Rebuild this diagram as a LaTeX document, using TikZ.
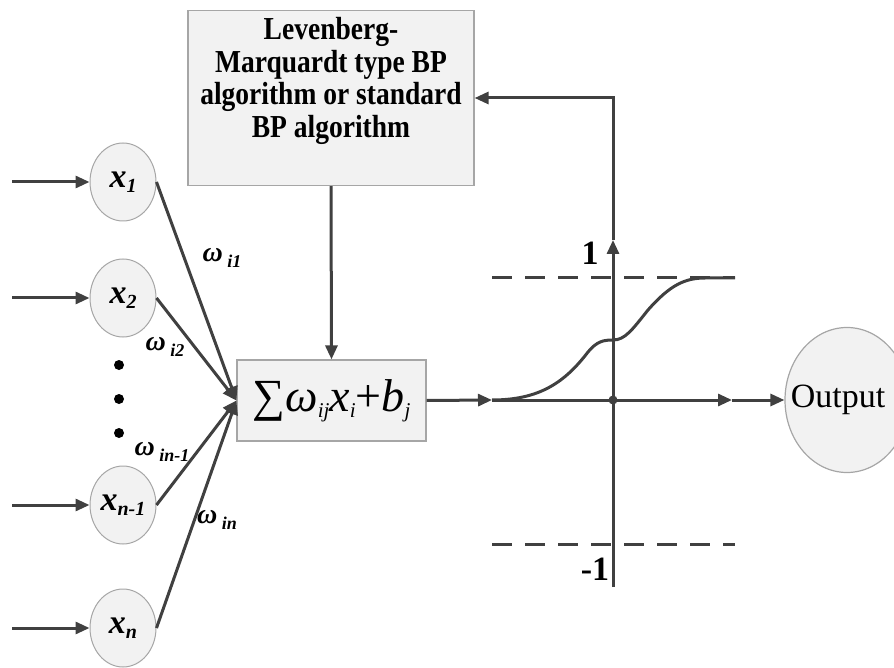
\documentclass[tikz,border=0pt]{standalone}
\usepackage{fontspec}
\setmainfont{Liberation Serif}
\newfontfamily\condfont[FakeStretch=0.86]{Liberation Serif}
\usetikzlibrary{arrows.meta,shapes.geometric}
\definecolor{ln}{HTML}{404040}
\definecolor{bd}{HTML}{A6A6A6}
\definecolor{fl}{HTML}{F2F2F2}
\newcommand\lowsub[1]{\raisebox{-0.3ex}{\fontsize{10}{10}\selectfont #1}}
\newcommand\wsub[1]{\raisebox{-0.4ex}{\fontsize{9}{9}\selectfont #1}}
\newcommand\sumsub[1]{\raisebox{-0.3ex}{\fontsize{10.5}{11}\selectfont\itshape #1}}
\begin{document}
\begin{tikzpicture}[x=0.5pt,y=-0.5pt,
  conn/.style={draw=ln,line width=1.5pt,-{Triangle[length=7pt,width=6pt]}},
  plain/.style={draw=ln,line width=1.5pt},
  inp/.style={ellipse,draw=bd,fill=fl,line width=0.5pt,minimum width=33pt,minimum height=39pt,inner sep=0pt,font=\fontsize{17}{19}\selectfont\bfseries\itshape},
  wl/.style={font=\fontsize{14}{16}\selectfont\bfseries\itshape,inner sep=0pt},
  boxst/.style={rectangle,draw=bd,fill=fl,line width=0.6pt,inner sep=0pt},
  dsh/.style={draw=ln,line width=1.5pt,dash pattern=on 10pt off 6.5pt},
  dotst/.style={circle,fill=black,inner sep=0pt,minimum size=5pt}]
\useasboundingbox (0,0) rectangle (894,668);
% algorithm box
\node[boxst,minimum width=143pt,minimum height=87.5pt] (alg) at (331,98) {};
\node[align=center,font=\condfont\fontsize{16}{16.3}\selectfont\bfseries,inner sep=0pt] (algt) at (331,81)
  {Levenberg-\\Marquardt type BP\\algorithm or standard\\BP algorithm};
% sum box
\node[boxst,minimum width=94.5pt,minimum height=40.5pt] (sum) at (331.5,400.5)
  {\fontsize{23}{26}\selectfont ∑\textit{ω}\sumsub{ij}\textit{x}\sumsub{i}+\textit{b}\sumsub{j}};
% inputs
\node[inp] (x1) at (123,182) {x\lowsub{1}};
\node[inp] (x2) at (123,298) {x\lowsub{2}};
\node[inp] (xm) at (123,505) {x\lowsub{n-1}};
\node[inp] (xn) at (123,628) {x\lowsub{n}};
\coordinate (i1) at (12,182);
\coordinate (i2) at (12,298);
\coordinate (im) at (12,505);
\coordinate (in) at (12,628);
\draw[conn] (i1) -- (x1);
\draw[conn] (i2) -- (x2);
\draw[conn] (im) -- (xm);
\draw[conn] (in) -- (xn);
\draw[conn] (x1.east) -- (sum.west);
\draw[conn] (x2.east) -- (sum.west);
\draw[conn] (xm.east) -- (sum.west);
\draw[conn] (xn.east) -- (sum.west);
% dots
\node[dotst] (d1) at (119,365) {};
\node[dotst] (d2) at (119,399) {};
\node[dotst] (d3) at (119,433) {};
% weight labels
\node[wl] (w1) at (222,258) {ω\,\wsub{i1}};
\node[wl] (w2) at (165,347) {ω\,\wsub{i2}};
\node[wl] (w3) at (162,452) {ω\,\wsub{in-1}};
\node[wl] (w4) at (217,520) {ω\,\wsub{in}};
% algorithm to sum
\draw[conn] (alg.south) -- (sum.north);
% axes
\coordinate (hx0) at (492,400);
\coordinate (hx1) at (732,400);
\coordinate (axb) at (613,587);
\coordinate (axt) at (613,240);
\node[ellipse,draw=bd,fill=fl,line width=0.6pt,minimum width=62pt,minimum height=72.5pt,inner sep=0pt] (out) at (847,400) {};
\node[font=\fontsize{17}{19}\selectfont,inner sep=0pt] (outt) at (838,400) {Output};
\draw[conn] (sum.east) -- (hx0);
\draw[conn] (hx0) -- (hx1);
\draw[conn] (hx1) -- (out.west);
\draw[conn] (axb) -- (axt);
\draw[conn] (axt) |- (alg.east);
\draw[dsh] (492,278) -- (735,278);
\draw[dsh] (492,544) -- (735,544);
\node[circle,fill=ln,inner sep=0pt,minimum size=4.5pt] (org) at (613,400) {};
% sigmoid
\draw[plain] (hx0) .. controls (540,400) and (565,382) .. (588,352)
  .. controls (597,341) and (604,340) .. (613,340)
  .. controls (625,340) and (632,330) .. (648,310)
  .. controls (670,285) and (685,278) .. (705,278) -- (735,278);
\node[font=\fontsize{17}{19}\selectfont\bfseries,inner sep=0pt] (one) at (590,253) {1};
\node[font=\fontsize{17}{19}\selectfont\bfseries,inner sep=0pt] (mone) at (595,569) {-1};
\end{tikzpicture}
\end{document}
